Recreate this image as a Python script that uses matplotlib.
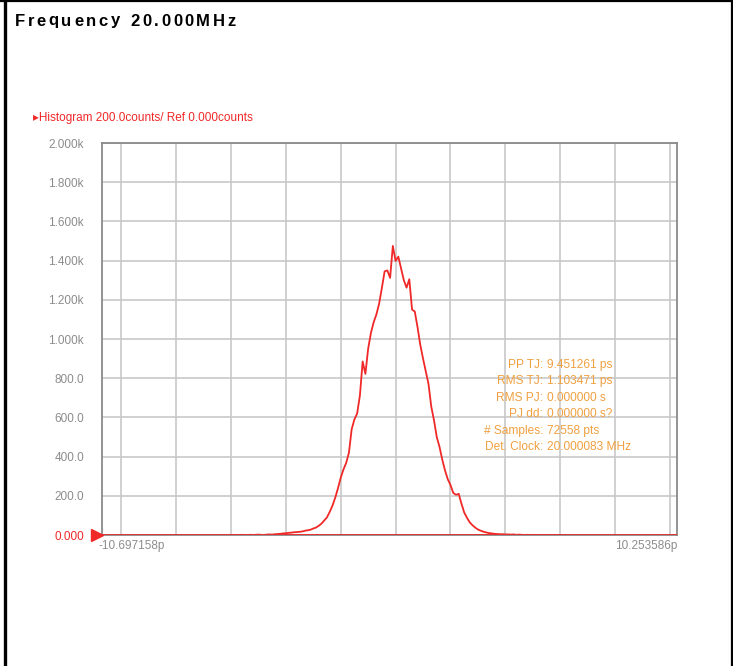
import numpy as np
import matplotlib.pyplot as plt
from matplotlib.lines import Line2D

W, H = 733, 666

# histogram data (bin centres in ps, counts)
bin_start = -6.0
bin_step = 0.1
counts = [0, 0, 0, 0, 1, 0, 0, 1, 0, 1, 2, 1, 0, 2, 3, 2,
          4, 5, 6, 8, 9, 11, 12, 14, 15, 16, 18, 22, 24, 27, 33, 38,
          47, 58, 74, 90, 118, 150, 190, 238, 292, 334, 368, 420, 540, 590,
          620, 712, 885, 822, 950, 1030, 1085, 1125, 1180, 1260, 1345, 1350,
          1312, 1475, 1398, 1420, 1360, 1300, 1262, 1305, 1150, 1140, 1060,
          970, 900, 835, 770, 655, 585, 500, 450, 385, 330, 285, 255, 215,
          205, 210, 160, 115, 88, 65, 50, 38, 28, 22, 17, 13, 10, 8, 6, 5,
          4, 4, 3, 3, 2, 3, 1, 2, 1, 0, 1, 0, 0, 0, 0, 0, 0, 0, 0, 0, 0, 0, 0]

x_min, x_max = -10.697158, 10.253586
y_ticks = [0, 200, 400, 600, 800, 1000, 1200, 1400, 1600, 1800, 2000]
y_labels = ['0.000', '200.0', '400.0', '600.0', '800.0', '1.000k', '1.200k',
            '1.400k', '1.600k', '1.800k', '2.000k']
x_grid = [-10, -8, -6, -4, -2, 0, 2, 4, 6, 8, 10]

stat_names = ['PP TJ:', 'RMS TJ:', 'RMS PJ:', 'PJ dd:', '# Samples:', 'Det. Clock:']
stat_values = ['9.451261 ps', '1.103471 ps', '0.000000 s', '0.000000 s?',
               '72558 pts', '20.000083 MHz']

title = 'Frequency 20.000MHz'
legend_text = '\u25b8Histogram 200.0counts/ Ref 0.000counts'

red = '#f02828'
gray_txt = '#8c8c8c'
orange = '#f0a040'
fam = ['Liberation Sans', 'DejaVu Sans']


def px(x, y):
    return x / W, 1 - y / H


fig = plt.figure(figsize=(W / 100, H / 100), dpi=100)
ax = fig.add_axes([102 / W, 1 - 535 / H, (677 - 102) / W, (535 - 143) / H])

x = bin_start + bin_step * np.arange(len(counts))
ax.plot(x, counts, color=red, lw=1.3)
ax.axhline(0, color=red, lw=2.0, zorder=5)

ax.set_xlim(x_min, x_max)
ax.set_ylim(0, 2000)
ax.set_xticks(x_grid)
ax.set_xticklabels([])
ax.set_yticks(y_ticks)
ax.set_yticklabels(y_labels, fontsize=8.5, color=gray_txt, family=fam)
ax.get_yticklabels()[0].set_color(red)
ax.tick_params(length=0, pad=13)
ax.grid(True, color='#c8c8c8', lw=1.2)
for s in ax.spines.values():
    s.set_color('#8a8a8a')
    s.set_linewidth(1.3)

# x end labels
fig.text(*px(98, 546), '-10.697158p', fontsize=8.5, color=gray_txt,
         family=fam, ha='left', va='center')
fig.text(*px(677, 546), '10.253586p', fontsize=8.5, color=gray_txt,
         family=fam, ha='right', va='center')

# red marker at zero
fig.add_artist(Line2D([96.5 / W], [1 - 535 / H], marker='>', ms=8, color=red, lw=0))

# legend-like text
fig.text(*px(33, 118), legend_text, fontsize=8.5, color=red,
         family=fam, ha='left', va='center')

# stats block
for i, (n, v) in enumerate(zip(stat_names, stat_values)):
    yy = 365 + i * 16.4
    fig.text(*px(543, yy), n, fontsize=8.6, color=orange, family=fam,
             ha='right', va='center')
    fig.text(*px(547, yy), v, fontsize=8.6, color=orange, family=fam,
             ha='left', va='center')

# letter-spaced bold title
fig.canvas.draw()
renderer = fig.canvas.get_renderer()
cx = 15
for ch in title:
    if ch == ' ':
        cx += 8
        continue
    t = fig.text(*px(cx, 21), ch, fontsize=12, fontweight='bold', color='black',
                 family=fam, ha='left', va='center')
    bb = t.get_window_extent(renderer)
    cx += bb.width + 2.6

# outer frame
fig.add_artist(Line2D([4.5 / W, 4.5 / W], [0, 1], color='black', lw=2.4))
fig.add_artist(Line2D([0, 1], [1 - 0.8 / H, 1 - 0.8 / H], color='black', lw=1.6))
fig.add_artist(Line2D([731.5 / W, 731.5 / W], [0, 1], color='black', lw=1.6))

fig.savefig('out.png', dpi=100)
